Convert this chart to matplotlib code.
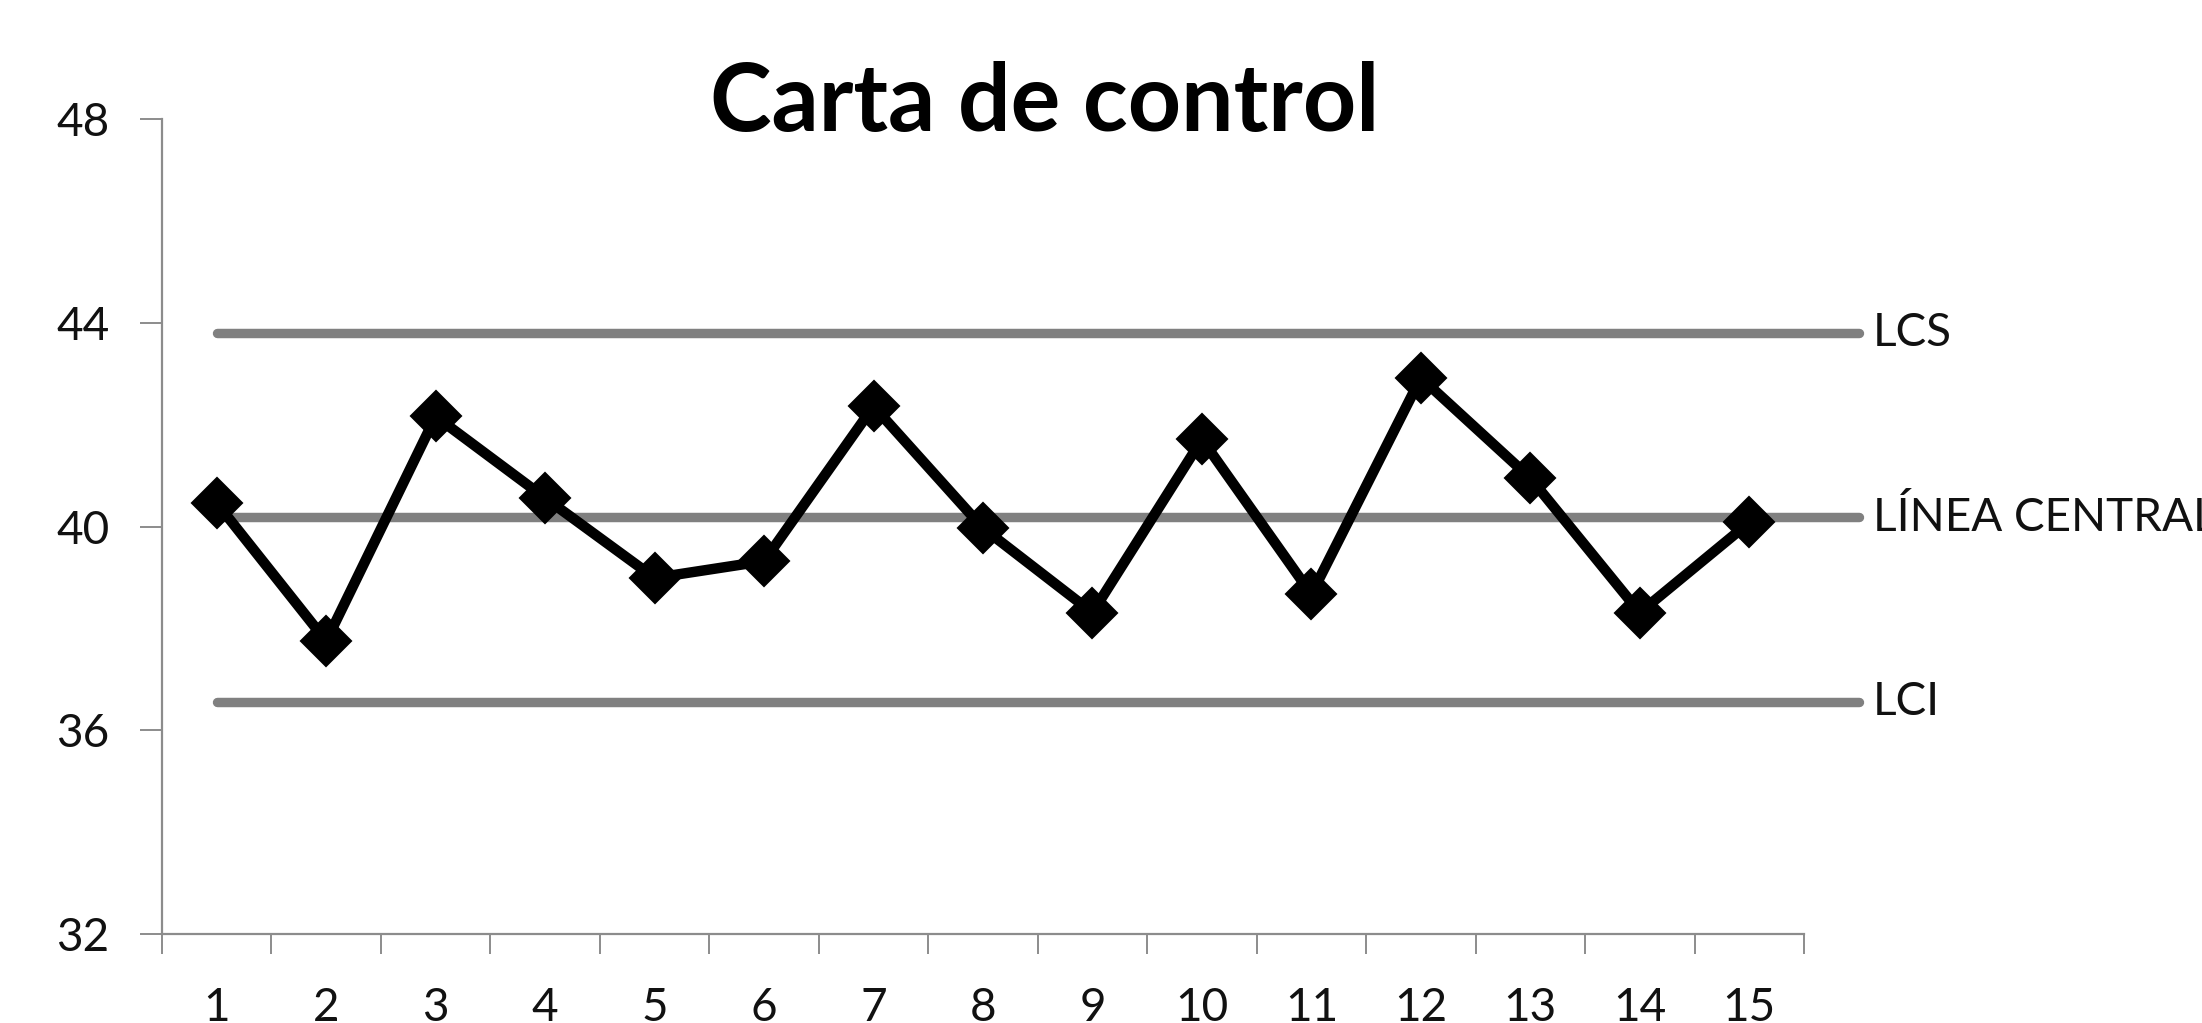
import numpy as np
import matplotlib
matplotlib.use("Agg")
import matplotlib.pyplot as plt

plt.rcParams['font.family'] = ['Lato', 'DejaVu Sans']

# muestras 1..15 y sus medias
muestras = list(range(1, 16))
valores = [40.46, 37.75, 42.16, 40.56, 38.99, 39.32, 42.36, 39.97,
           38.31, 41.71, 38.67, 42.92, 40.95, 38.31, 40.08]

# limites de control
lcs = 43.80
linea_central = 40.18
lci = 36.56
limites = [("LCS", lcs), ("LÍNEA CENTRAL", linea_central), ("LCI", lci)]

y_ticks = [32, 36, 40, 44, 48]

gris = '#808080'
eje = '#8c8c8c'

fig = plt.figure(figsize=(22.02, 10.23), dpi=100)
ax = fig.add_axes([162 / 2202, 1 - 934 / 1023, (1804 - 162) / 2202, (934 - 119) / 1023])

# lineas de control: van de la muestra 1 a una posicion extra (16), como en excel
x_lim = [muestras[0], muestras[-1] + 1]
for nombre, val in limites:
    ax.plot(x_lim, [val, val], color=gris, lw=6.8, solid_capstyle='round',
            clip_on=False, zorder=2)
    ax.annotate(nombre, xy=(x_lim[1], val), xytext=(10, 0), textcoords='offset points',
                va='center', ha='left', fontsize=33, color='#111111',
                annotation_clip=False)

ax.plot(muestras, valores, color='black', lw=7.5, marker='D', markersize=25,
        markeredgewidth=1.5, markerfacecolor='black', markeredgecolor='black',
        zorder=3, clip_on=False)

ax.set_xlim(0.5, 15.5)
ax.set_ylim(32, 48)

for s in ['top', 'right']:
    ax.spines[s].set_visible(False)
for s in ['left', 'bottom']:
    ax.spines[s].set_color(eje)
    ax.spines[s].set_linewidth(1.6)

ax.set_yticks(y_ticks)
ax.tick_params(axis='y', direction='out', length=16, width=1.4, color=eje,
               pad=22, labelsize=33, labelcolor='#111111')

ax.set_xticks(muestras)
ax.set_xticks(np.arange(0.5, 16, 1), minor=True)
ax.tick_params(axis='x', which='major', length=0, pad=38, labelsize=33,
               labelcolor='#111111')
ax.tick_params(axis='x', which='minor', direction='out', length=14.5, width=1.4,
               color=eje)

fig.text(1045 / 2202, 1 - 131 / 1023, "Carta de control", ha='center', va='baseline',
         fontsize=67, fontweight='bold', color='black')

fig.savefig('out.png', dpi=100, facecolor='white')
